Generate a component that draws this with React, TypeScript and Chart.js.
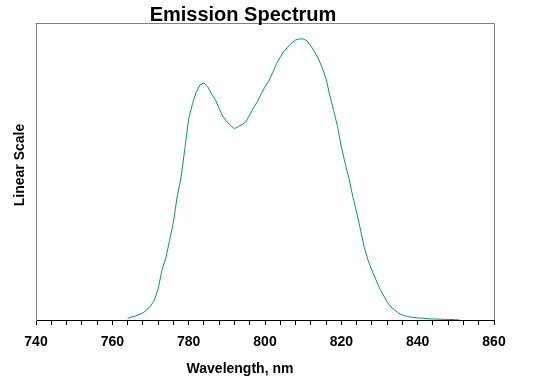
import React, { useEffect, useRef } from "react";
import { Chart, registerables } from "chart.js";

Chart.register(...registerables);

const chartTitle = "Emission Spectrum";
const xAxisTitle = "Wavelength, nm";
const yAxisTitle = "Linear Scale";

const wavelengths = [
  764, 765, 766, 767, 768, 769, 770, 771, 772, 773, 774, 775, 776, 777, 778, 779,
  780, 781, 782, 783, 784, 785, 786, 787, 788, 789, 790, 791, 792, 793, 794, 795,
  796, 797, 798, 799, 800, 801, 802, 803, 804, 805, 806, 807, 808, 809, 810, 811,
  812, 813, 814, 815, 816, 817, 818, 819, 820, 821, 822, 823, 824, 825, 826, 827,
  828, 829, 830, 831, 832, 833, 834, 835, 836, 837, 838, 839, 840, 841, 842, 843,
  844, 845, 846, 847, 848, 849, 850, 851,
];

const intensity = [
  1.5, 3, 4, 5.5, 7, 10, 14, 20, 31, 50, 62, 80, 98, 124, 143, 172,
  202, 217, 229, 236, 238, 234, 227, 221, 212, 204, 199, 195, 192, 194, 196, 199,
  206, 213, 219, 227, 234, 240, 248, 257, 264, 270, 274, 278, 281, 282, 282, 280,
  275, 269, 262, 253, 242, 225, 210, 194, 174, 157, 142, 124, 108, 91, 73, 60,
  50, 41, 32, 25, 18, 13, 10, 7, 5, 4, 3, 2.5, 2, 2, 1.5, 1.2,
  1, 1, 0.8, 0.6, 0.5, 0.5, 0.3, 0,
];

const xMin = 740;
const xMax = 860;
const xMinorStep = 4;
const xLabelStep = 20;
const yMax = 298;

const FONT = "'Liberation Sans', Arial, sans-serif";

const framePlugin = {
  id: "frameAndTitles",
  afterDraw(chart: any) {
    const { ctx, chartArea } = chart;
    ctx.save();
    ctx.strokeStyle = "#808080";
    ctx.lineWidth = 1;
    ctx.beginPath();
    const top = Math.round(chartArea.top) + 0.5;
    const right = Math.round(chartArea.right) + 0.5;
    const left = Math.round(chartArea.left) - 0.5;
    ctx.moveTo(left, top);
    ctx.lineTo(right, top);
    ctx.lineTo(right, Math.round(chartArea.bottom));
    ctx.stroke();

    ctx.fillStyle = "#000";
    ctx.font = `bold 20px ${FONT}`;
    ctx.textAlign = "center";
    ctx.textBaseline = "alphabetic";
    ctx.fillText(chartTitle, 243, 21);

    ctx.font = `bold 14px ${FONT}`;
    ctx.fillText(xAxisTitle, 240, 373);

    ctx.translate(24, 165);
    ctx.rotate(-Math.PI / 2);
    ctx.fillText(yAxisTitle, 0, 0);
    ctx.restore();
  },
};

export default function App() {
  const canvasRef = useRef<HTMLCanvasElement | null>(null);

  useEffect(() => {
    if (!canvasRef.current) return;
    const points = wavelengths.map((w, i) => ({ x: w, y: intensity[i] }));
    const chart = new Chart(canvasRef.current, {
      type: "line",
      data: {
        datasets: [
          {
            data: points,
            borderColor: "#009a6a",
            borderWidth: 1,
            pointRadius: 0,
            tension: 0,
            fill: false,
          },
        ],
      },
      options: {
        animation: false,
        responsive: false,
        maintainAspectRatio: false,
        layout: { padding: { top: 23, right: 58, left: 0, bottom: 0 } },
        plugins: {
          legend: { display: false },
          tooltip: { enabled: false },
          title: { display: false },
        },
        scales: {
          x: {
            type: "linear",
            min: xMin,
            max: xMax,
            afterFit: (s: any) => {
              s.height = 65;
            },
            afterBuildTicks: (s: any) => {
              const t = [];
              for (let v = xMin; v <= xMax; v += xMinorStep) t.push({ value: v });
              s.ticks = t;
            },
            ticks: {
              autoSkip: false,
              maxRotation: 0,
              padding: 9,
              color: "#000",
              font: { family: FONT, size: 14, weight: "bold" },
              callback: (v: any) => (Number(v) % xLabelStep === 0 ? String(v) : ""),
            },
            grid: {
              drawOnChartArea: false,
              drawTicks: true,
              tickLength: 5,
              tickColor: "#000",
              color: "#000",
            },
            border: { display: true, color: "#000", width: 1 },
          },
          y: {
            type: "linear",
            min: 0,
            max: yMax,
            afterFit: (s: any) => {
              s.width = 36;
            },
            ticks: { display: false },
            grid: { display: false, drawTicks: false },
            border: { display: true, color: "#808080", width: 1 },
          },
        },
      },
      plugins: [framePlugin],
    });
    return () => chart.destroy();
  }, []);

  return (
    <div style={{ position: "fixed", left: 0, top: 0, width: 552, height: 385, background: "#fff" }}>
      <canvas ref={canvasRef} width={552} height={385} style={{ display: "block" }} />
    </div>
  );
}
